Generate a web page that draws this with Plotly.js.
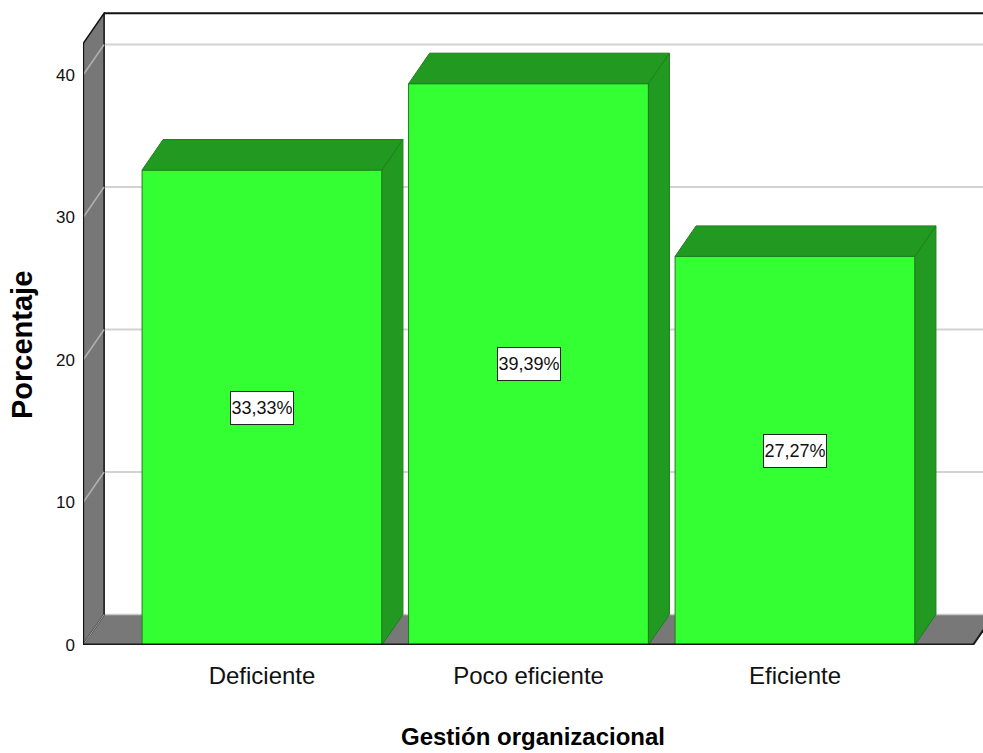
<!DOCTYPE html>
<html>
<head>
<meta charset="utf-8">
<script src="https://cdn.plot.ly/plotly-3.0.1.min.js"></script>
<style>html,body{margin:0;padding:0;background:#fff;}#chart{width:983px;height:753px;}</style>
</head>
<body>
<div id="chart"></div>
<script>
// ---- data ----
const categories = ["Deficiente", "Poco eficiente", "Eficiente"];
const percentages = [33.33, 39.39, 27.27];
const yTickValues = [0, 10, 20, 30, 40];
const yTickLabels = ["0", "10", "20", "30", "40"];
const xTitle = "Gestión organizacional";
const yTitle = "Porcentaje";

// ---- geometry (axis units) ----
const xPos = categories.map((c, i) => i);
const barW = 0.9;
const xMin = -0.6717, xMax = 2.7054;
const yMax = 44.42;
const dx = 0.0788, dy = 2.14;       // oblique depth offset
const wallTop = 42.2;
const floorRight = 2.668;
const xw = xMin + 0.0005;

const sans = '"Liberation Sans", Arial, sans-serif';
const shapes = [];
const P = (pts) => 'M ' + pts.map(p => p[0] + ',' + p[1]).join(' L ') + ' Z';

// floor
shapes.push({type:'path', layer:'below', xref:'x', yref:'y',
  path: P([[xw,0],[floorRight,0],[floorRight+dx,dy],[xw+dx,dy]]),
  fillcolor:'#787878', line:{width:0}});
// floor back edge
shapes.push({type:'line', layer:'below', xref:'x', yref:'y', x0:xw+dx, y0:dy, x1:xMax, y1:dy,
  line:{color:'#c8c8c8', width:1.5}});
// back wall gridlines
yTickValues.filter(t => t > 0).forEach(t => {
  shapes.push({type:'line', layer:'below', xref:'x', yref:'y', x0:xw+dx, y0:t+dy, x1:xMax, y1:t+dy,
    line:{color:'#d2d2d2', width:2}});
});
// left wall
shapes.push({type:'path', layer:'below', xref:'x', yref:'y',
  path: P([[xw,0],[xw+dx,dy],[xw+dx,wallTop+dy],[xw,wallTop]]),
  fillcolor:'#777777', line:{color:'#111', width:1.5}});
// wall grid slants
yTickValues.filter(t => t > 0).forEach(t => {
  shapes.push({type:'line', layer:'below', xref:'x', yref:'y', x0:xw, y0:t, x1:xw+dx, y1:t+dy,
    line:{color:'#b0b0b0', width:1.5}});
});
shapes.push({type:'line', layer:'below', xref:'x', yref:'y', x0:xw, y0:0, x1:xw+dx, y1:dy,
  line:{color:'#a0a0a0', width:1.2}});
// back wall top edge
shapes.push({type:'line', layer:'below', xref:'x', yref:'y', x0:xw+dx, y0:wallTop+dy, x1:xMax, y1:wallTop+dy,
  line:{color:'#111', width:2}});

// bar top/side faces
percentages.forEach((v, i) => {
  const x0 = xPos[i] - barW/2, x1 = xPos[i] + barW/2;
  shapes.push({type:'path', layer:'above', xref:'x', yref:'y',
    path: P([[x0,v],[x0+dx,v+dy],[x1+dx,v+dy],[x1,v]]),
    fillcolor:'#229A22', line:{color:'#1C7F1C', width:1}});
  shapes.push({type:'path', layer:'above', xref:'x', yref:'y',
    path: P([[x1,0],[x1+dx,dy],[x1+dx,v+dy],[x1,v]]),
    fillcolor:'#229A22', line:{color:'#1C7F1C', width:1}});
});
// floor front edge & right edge
shapes.push({type:'line', layer:'above', xref:'x', yref:'y', x0:xw, y0:0, x1:floorRight, y1:0,
  line:{color:'#1a1a1a', width:3}});
shapes.push({type:'line', layer:'above', xref:'x', yref:'y', x0:floorRight, y0:0, x1:floorRight+dx, y1:dy,
  line:{color:'#1a1a1a', width:2}});
// left wall front edge
shapes.push({type:'line', layer:'above', xref:'x', yref:'y', x0:xw, y0:0, x1:xw, y1:wallTop,
  line:{color:'#111', width:2}});

const annotations = percentages.map((v, i) => ({
  x: xPos[i], y: v/2, xref:'x', yref:'y', showarrow:false,
  text: v.toFixed(2).replace('.', ',') + '%',
  font:{family:sans, size:18, color:'#111'},
  bgcolor:'#ffffff', bordercolor:'#222', borderwidth:1, borderpad:1,
  width:60, height:30
}));
annotations.push({
  xref:'paper', yref:'paper', x:(22-83)/900, y:(645-345)/633, showarrow:false,
  text:'<b>' + yTitle + '</b>', textangle:-90, xanchor:'center', yanchor:'middle',
  font:{family:sans, size:29, color:'#000'}
});

const trace = {
  type:'bar', x:xPos, y:percentages, width:barW,
  marker:{color:'#33FF33', line:{color:'#1C7F1C', width:1}},
  hoverinfo:'none', showlegend:false
};

const layout = {
  width:983, height:753,
  margin:{l:83, r:0, t:12, b:108},
  paper_bgcolor:'#ffffff', plot_bgcolor:'#ffffff',
  showlegend:false,
  xaxis:{range:[xMin, xMax], tickvals:xPos, ticktext:categories, showgrid:false, zeroline:false,
    showline:false, ticks:'', ticklabelstandoff:14,
    tickfont:{family:sans, size:24, color:'#111'},
    title:{text:'<b>' + xTitle + '</b>', standoff:40, font:{family:sans, size:24, color:'#000'}},
    fixedrange:true},
  yaxis:{range:[0, yMax], tickvals:yTickValues, ticktext:yTickLabels, showgrid:false, zeroline:false,
    showline:false, ticks:'', ticklabelstandoff:7,
    tickfont:{family:sans, size:17, color:'#111'}, fixedrange:true},
  shapes:shapes, annotations:annotations
};

Plotly.newPlot('chart', [trace], layout, {displayModeBar:false, staticPlot:true});
</script>
</body>
</html>
